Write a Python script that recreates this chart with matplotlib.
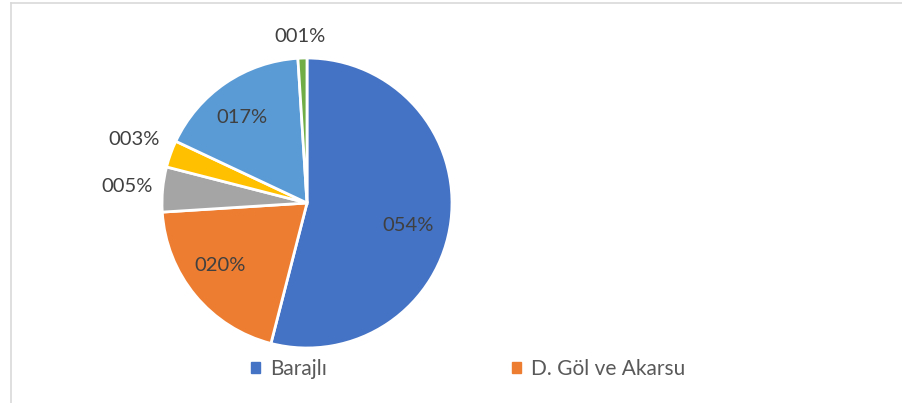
import matplotlib.pyplot as plt
import matplotlib.patches as mpatches
from matplotlib.lines import Line2D
import numpy as np

plt.rcParams['font.family'] = ['Lato', 'DejaVu Sans']

# dilim verileri (saat yönünde, tepeden başlayarak)
values = [54, 20, 5, 3, 17, 1]
labels = ['054%', '020%', '005%', '003%', '017%', '001%']
colors = ['#4472C4', '#ED7D31', '#A5A5A5', '#FFC000', '#5B9BD5', '#70AD47']
legend_names = ['Barajlı', 'D. Göl ve Akarsu']

# etiket yerleşimi: merkezden uzaklık ve orta açıdan sapma (derece)
label_dist = [0.715, 0.74, 1.246, 1.272, 0.743, 1.146]
label_shift = [-5.6, -3.7, 0.3, -0.5, 2.9, 0.6]

W, H = 902, 403
fig = plt.figure(figsize=(W / 100, H / 100), dpi=100)

cx, cy, r = 307, 203, 145
ax = fig.add_axes([(cx - r) / W, (H - cy - r) / H, 2 * r / W, 2 * r / H])
wedges, _ = ax.pie(values, colors=colors, startangle=90, counterclock=False,
                   wedgeprops=dict(edgecolor='white', linewidth=2))
ax.set_xlim(-1, 1)
ax.set_ylim(-1, 1)
ax.set_aspect('equal')

for w, lab, d, s in zip(wedges, labels, label_dist, label_shift):
    ang = np.deg2rad((w.theta1 + w.theta2) / 2 + s)
    ax.text(d * np.cos(ang), d * np.sin(ang), lab, ha='center', va='center',
            fontsize=14.5, color='#404040')

# lejant
handles = [mpatches.Patch(color=c) for c in colors[:2]]
fig.legend(handles, legend_names, loc='center', bbox_to_anchor=(468 / W, 1 - 369 / H),
           ncol=2, frameon=False, fontsize=15, labelcolor='#595959',
           handlelength=0.45, handleheight=0.45, handletextpad=0.45, columnspacing=8.9)

# çerçeve
fig.add_artist(Line2D([10.5 / W, 10.5 / W], [0, 1 - 2.5 / H], color='#D9D9D9', lw=1.2))
fig.add_artist(Line2D([10.5 / W, 1], [1 - 2.5 / H, 1 - 2.5 / H], color='#D9D9D9', lw=1.2))

fig.savefig('out.png', dpi=100)
